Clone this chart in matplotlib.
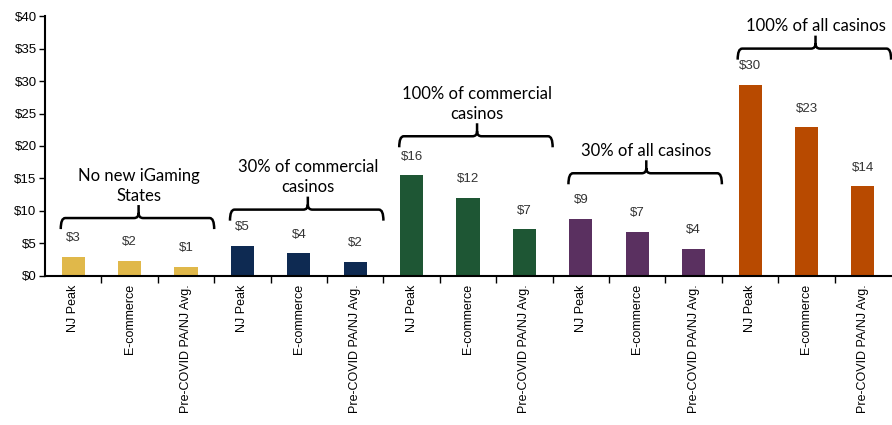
import matplotlib
matplotlib.use("Agg")
import matplotlib.pyplot as plt
from matplotlib.path import Path
from matplotlib.patches import PathPatch
import numpy as np

# data
scenarios = ["NJ Peak", "E-commerce", "Pre-COVID PA/NJ Avg."]
groups = ["No new iGaming\nStates", "30% of commercial\ncasinos",
          "100% of commercial\ncasinos", "30% of all casinos", "100% of all casinos"]
no_new = [2.9, 2.3, 1.4]
comm_30 = [4.6, 3.5, 2.2]
comm_100 = [15.5, 12.0, 7.2]
all_30 = [8.8, 6.8, 4.2]
all_100 = [29.4, 22.9, 13.8]
value_labels = ["$3", "$2", "$1", "$5", "$4", "$2", "$16", "$12", "$7",
                "$9", "$7", "$4", "$30", "$23", "$14"]

colors = ["#E0B84A", "#0E2A52", "#1E5634", "#5A3060", "#B84A00"]
brace_levels = [8.9, 10.2, 21.5, 15.8, 35.0]  # y of brace bar for each group

series = [no_new, comm_30, comm_100, all_30, all_100]
narrow = ["Liberation Sans", "DejaVu Sans"]

fig = plt.figure(figsize=(8.92, 4.25), dpi=100)
ax = fig.add_axes([0.0504, 0.351, 0.9486, 0.611])

x = np.arange(15)
vals = [v for s in series for v in s]
bar_colors = [c for c in colors for _ in range(3)]
ax.bar(x, vals, width=0.41, color=bar_colors)

for xi, v, lab in zip(x, vals, value_labels):
    ax.annotate(lab, (xi, v), xytext=(0, 9), textcoords="offset points",
                ha="center", va="bottom", fontsize=9.5, family=narrow, color="#333333")


def brace(ax, x0, x1, xc, y, drop=1.7, rise=2.0, r=0.08, ry=0.8):
    verts = [(x0, y - drop), (x0, y), (x0 + r, y),
             (xc - r, y), (xc, y), (xc, y + ry), (xc, y + rise)]
    codes = [Path.MOVETO, Path.CURVE3, Path.CURVE3,
             Path.LINETO, Path.CURVE3, Path.CURVE3, Path.LINETO]
    verts += [(xc, y + ry), (xc, y), (xc + r, y),
              (x1 - r, y), (x1, y), (x1, y - drop)]
    codes += [Path.MOVETO, Path.CURVE3, Path.CURVE3,
              Path.LINETO, Path.CURVE3, Path.CURVE3]
    ax.add_patch(PathPatch(Path(verts, codes), fill=False, lw=1.8,
                           edgecolor="black", clip_on=False, capstyle="butt"))


for g, (label, lvl) in enumerate(zip(groups, brace_levels)):
    x0 = g * 3 - 0.22
    x1 = g * 3 + 2.5
    xc = g * 3 + 1.16
    brace(ax, x0, x1, xc, lvl)
    ax.text(xc, lvl + 2.2, label, ha="center", va="bottom", fontsize=12,
            family=["Lato", "DejaVu Sans"], linespacing=1.3, color="black")

ax.set_xlim(-0.5, 14.5)
ax.set_ylim(0, 40)
ax.set_yticks(range(0, 41, 5))
ax.set_yticklabels([f"${t}" for t in range(0, 41, 5)], family=narrow, fontsize=9.5)
ax.set_xticks(x)
ax.set_xticklabels(scenarios * 5, rotation=90, family=narrow, fontsize=9)
ax.tick_params(axis="x", length=0, pad=6)
ax.set_xticks(np.arange(0.5, 14.5, 1), minor=True)
ax.tick_params(axis="x", which="minor", length=5, width=1, direction="out")
ax.tick_params(axis="y", length=4, width=1, direction="out", pad=2)
for side in ["top", "right"]:
    ax.spines[side].set_visible(False)
for side in ["left", "bottom"]:
    ax.spines[side].set_linewidth(1.5)

fig.savefig("out.png", dpi=100)
